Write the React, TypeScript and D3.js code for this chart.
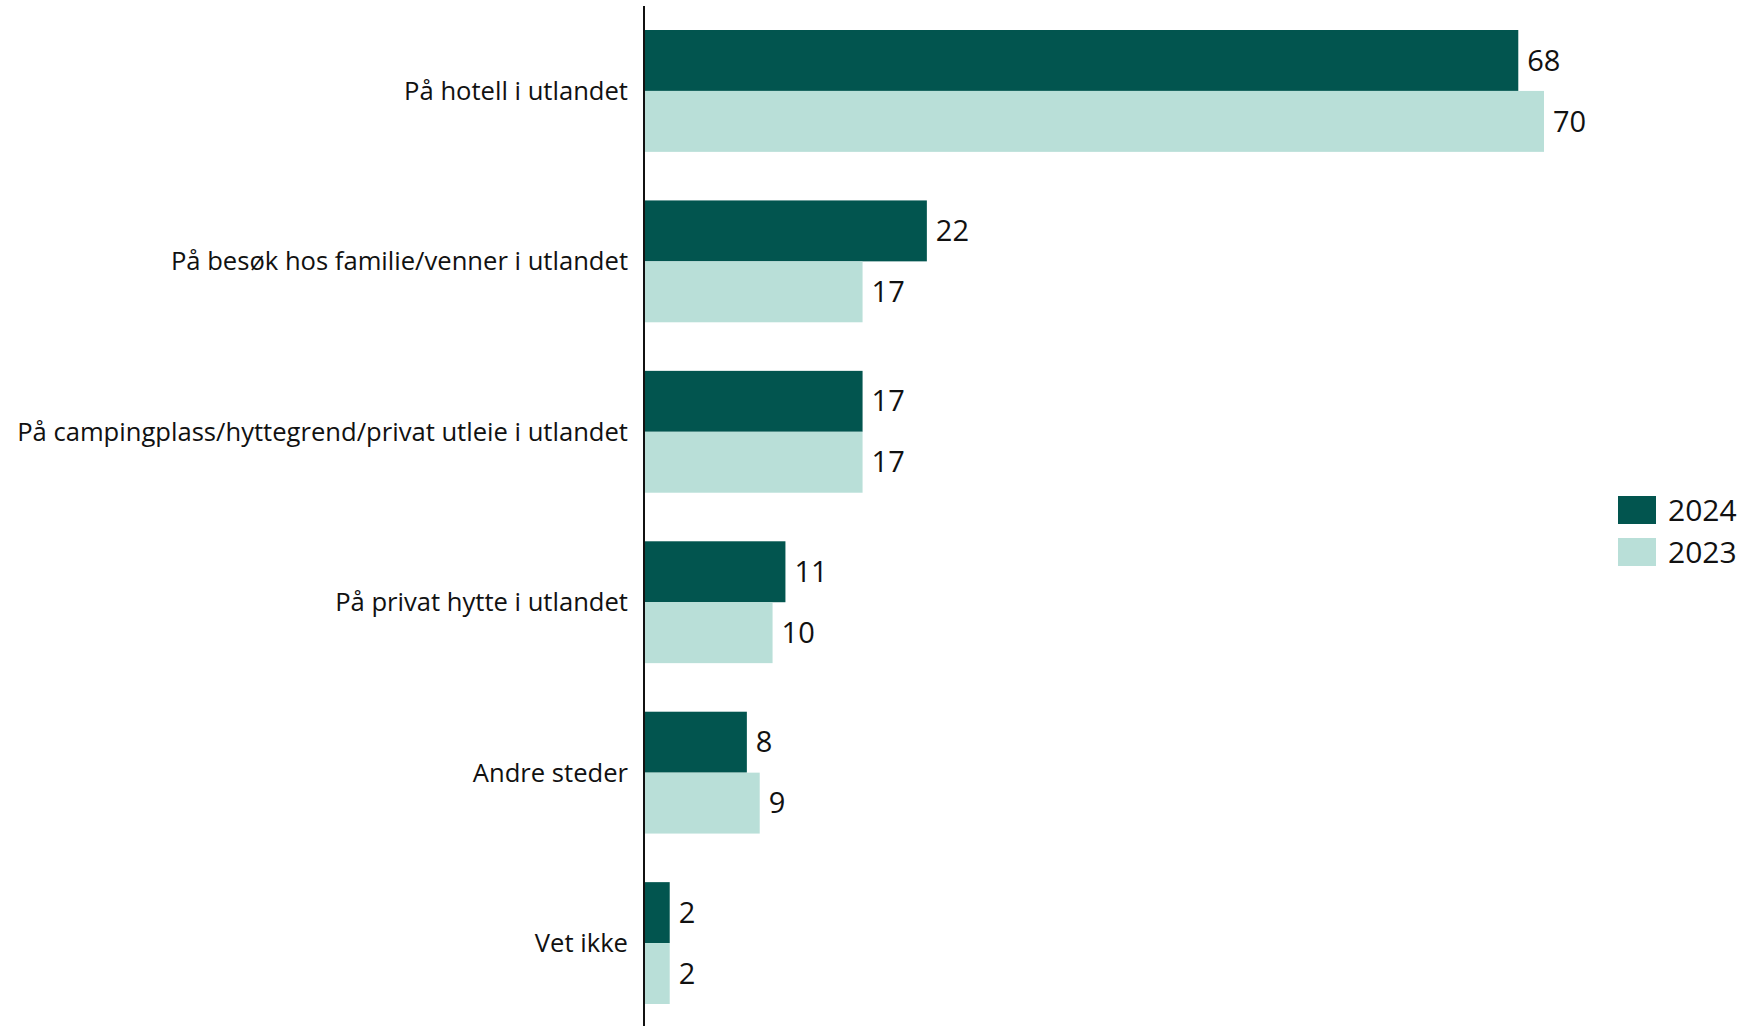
import { useEffect, useRef } from "react";
import * as d3 from "d3";

const categories = [
  "På hotell i utlandet",
  "På besøk hos familie/venner i utlandet",
  "På campingplass/hyttegrend/privat utleie i utlandet",
  "På privat hytte i utlandet",
  "Andre steder",
  "Vet ikke",
];
const years = ["2024", "2023"];
const values2024 = [68, 22, 17, 11, 8, 2];
const values2023 = [70, 17, 17, 10, 9, 2];
const colors = ["#02554f", "#b9dfd8"];

const FONT = "'Open Sans', sans-serif";

const App = () => {
  const ref = useRef<HTMLDivElement>(null);

  useEffect(() => {
    document.body.style.margin = "0";
    const container = d3.select(ref.current);
    container.select("svg").remove();

    const WIDTH = 1741;
    const HEIGHT = 1026;
    const AXIS_X = 644;

    const svg = container
      .append("svg")
      .attr("width", WIDTH)
      .attr("height", HEIGHT)
      .style("display", "block")
      .style("font-family", FONT);

    const x = d3.scaleLinear().domain([0, 70]).range([AXIS_X, 1544]);
    const y = d3
      .scaleBand<string>()
      .domain(categories)
      .range([30, 1004])
      .paddingInner(0.285)
      .paddingOuter(0);
    const sub = d3.scaleBand<string>().domain(years).range([0, y.bandwidth()]);

    const rows = categories.map((c, i) => ({
      cat: c,
      vals: [values2024[i], values2023[i]],
    }));

    const g = svg
      .selectAll("g.row")
      .data(rows)
      .join("g")
      .attr("class", "row")
      .attr("transform", (d) => `translate(0, ${y(d.cat)})`);

    years.forEach((yr, k) => {
      g.append("rect")
        .attr("x", x(0))
        .attr("y", sub(yr)!)
        .attr("width", (d) => x(d.vals[k]) - x(0))
        .attr("height", sub.bandwidth())
        .attr("fill", colors[k]);

      g.append("text")
        .attr("x", (d) => x(d.vals[k]) + 9)
        .attr("y", sub(yr)! + sub.bandwidth() / 2)
        .attr("dy", "0.35em")
        .attr("font-size", 29)
        .attr("fill", "#111")
        .text((d) => d.vals[k]);
    });

    g.append("text")
      .attr("x", AXIS_X - 16)
      .attr("y", y.bandwidth() / 2)
      .attr("dy", "0.35em")
      .attr("text-anchor", "end")
      .attr("font-size", 25.6)
      .attr("fill", "#111")
      .text((d) => d.cat);

    // vertical axis line
    svg
      .append("line")
      .attr("x1", AXIS_X)
      .attr("x2", AXIS_X)
      .attr("y1", 6)
      .attr("y2", HEIGHT)
      .attr("stroke", "#111")
      .attr("stroke-width", 2);

    // legend
    const legend = svg
      .selectAll("g.legend")
      .data(years)
      .join("g")
      .attr("class", "legend")
      .attr("transform", (_d, i) => `translate(1618, ${496 + i * 42})`);
    legend
      .append("rect")
      .attr("width", 38)
      .attr("height", 28)
      .attr("fill", (_d, i) => colors[i]);
    legend
      .append("text")
      .attr("x", 50)
      .attr("y", 14)
      .attr("dy", "0.35em")
      .attr("font-size", 30)
      .attr("fill", "#111")
      .text((d) => d);
  }, []);

  return <div ref={ref}></div>;
};

export default App;
